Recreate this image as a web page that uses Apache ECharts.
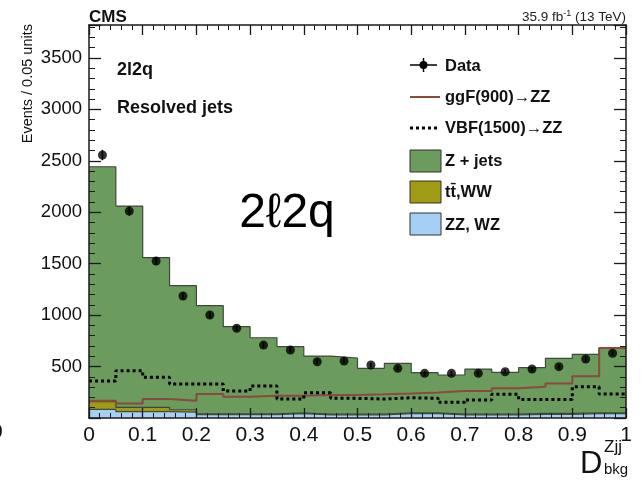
<!DOCTYPE html>
<html><head><meta charset="utf-8">
<script src="https://cdn.jsdelivr.net/npm/echarts@6/dist/echarts.min.js"></script>
<style>html,body{margin:0;padding:0;background:#fff}#c{width:643px;height:480px}</style>
</head><body><div id="c"></div>
<script>
// ---- data ----
const binEdges = [0,0.05,0.1,0.15,0.2,0.25,0.3,0.35,0.4,0.45,0.5,0.55,0.6,0.65,0.7,0.75,0.8,0.85,0.9,0.95,1];
const zzWz   = [84,61,61,58,33,33,33,42,30,30,30,42,42,30,30,30,36,36,42,42];
const ttWw   = [74,43,43,22,8,8,8,8,8,8,8,8,8,8,8,8,8,8,8,8];
const zJets  = [2284,1956,1454,1206,1051,847,739,643,564,545,445,481,391,380,438,406,445,536,569,627];
const dataEvents = [2556,2011,1526,1186,1001,872,709,661,547,554,515,483,434,434,434,450,476,499,573,629];
const dataErrors = [50,45,39,34,32,30,27,26,23,24,23,22,21,21,21,21,22,22,24,25];
const ggF900  = [168,142,184,168,233,207,216,216,223,223,230,239,249,262,262,288,303,336,405,680];
const vbf1500 = [359,460,395,330,330,262,310,184,245,191,184,197,191,152,175,230,181,181,303,233];
const yMax = 3820;

const FONT = '"Liberation Sans", Arial, Helvetica, sans-serif';
const C_GREEN = '#6b9b5d', C_OLIVE = '#a09a14', C_BLUE = '#a6cff4', C_BROWN = '#8a4a3c', C_EDGE = '#3f4a3c', C_AX = '#1a1a1a';

function stepData(vals){ const d = vals.map((v,i)=>[binEdges[i], v]); d.push([binEdges[binEdges.length-1], vals[vals.length-1]]); return d; }
const stBlue  = zzWz.slice();
const stOlive = zzWz.map((v,i)=>v+ttWw[i]);
const stGreen = stOlive.map((v,i)=>v+zJets[i]);
const centers = dataEvents.map((v,i)=>(binEdges[i]+binEdges[i+1])/2);

const chart = echarts.init(document.getElementById('c'), null, {renderer:'canvas'});
function xAx(pos, labels){
  return {type:'value', min:0, max:1, interval:0.1, position:pos, z:5,
    axisLine:{show:true, onZero:false, lineStyle:{color:C_AX, width:1.5}},
    axisTick:{show:true, inside:true, length:10, lineStyle:{color:C_AX, width:1.3}},
    minorTick:{show:true, splitNumber:5, length:5, lineStyle:{color:C_AX, width:1}},
    splitLine:{show:false},
    axisLabel: labels ? {show:true, fontSize:21, color:'#111', fontFamily:FONT, margin:7} : {show:false}};
}
function yAx(pos, major, labels){
  return {type:'value', min:0, max:yMax, interval: major?500:100, position:pos, z:5,
    axisLine: {show: major, onZero:false, lineStyle:{color:C_AX, width:1.5}},
    axisTick:{show:true, inside:true, length: major?12:6, lineStyle:{color:C_AX, width: major?1.3:1}},
    splitLine:{show:false},
    axisLabel: labels ? {show:true, fontSize:18.5, color:'#111', fontFamily:FONT, margin:7,
       formatter: v => (v>0 && v%500===0) ? String(v) : ''} : {show:false}};
}
function area(name, vals, color){
  return {name, type:'line', step:'end', data:stepData(vals), symbol:'none', xAxisIndex:0, yAxisIndex:0,
    lineStyle:{color:C_EDGE, width:1.2}, areaStyle:{color, opacity:1}, z:2, silent:true};
}
const option = {
  animation:false,
  backgroundColor:'#fff',
  grid:{left:89, right:17, top:25, bottom:62, containLabel:false},
  xAxis:[xAx('bottom', true), xAx('top', false)],
  yAxis:[yAx('left', true, true), yAx('left', false, false), yAx('right', true, false), yAx('right', false, false)],
  series:[
    area('Z + jets', stGreen, C_GREEN),
    area('tt\u0304,WW', stOlive, C_OLIVE),
    area('ZZ, WZ', stBlue, C_BLUE),
    {name:'ggF(900)\u2192ZZ', type:'line', step:'end', data:stepData(ggF900), symbol:'none', xAxisIndex:0, yAxisIndex:0,
      lineStyle:{color:C_BROWN, width:2}, z:3},
    {name:'VBF(1500)\u2192ZZ', type:'line', step:'end', data:stepData(vbf1500), symbol:'none', xAxisIndex:0, yAxisIndex:0,
      lineStyle:{color:'#000', width:3, type:[3,3], cap:'butt'}, z:3},
    {name:'Data err', type:'custom', xAxisIndex:0, yAxisIndex:0, z:4,
      data: dataEvents.map((v,i)=>[centers[i], v, dataErrors[i]]),
      encode:{x:0, y:1},
      renderItem:(params, api)=>{
        const x = api.value(0), y = api.value(1), e = api.value(2);
        const a = api.coord([x, y-e]), b = api.coord([x, y+e]);
        return {type:'line', shape:{x1:a[0], y1:a[1], x2:b[0], y2:b[1]}, style:{stroke:'#000', lineWidth:1.5}};
      }},
    {name:'Data', type:'scatter', xAxisIndex:0, yAxisIndex:0, z:5, symbol:'circle', symbolSize:9,
      itemStyle:{color:'#000'}, data: dataEvents.map((v,i)=>[centers[i], v])}
  ],
  graphic:[
    {type:'text', x:89, y:17, style:{text:'CMS', font:'bold 17px '+FONT, fill:'#111', textVerticalAlign:'middle'}},
    {type:'text', x:626, y:17, style:{text:'{a|35.9 fb}{s|-1}{a| (13 TeV)}', textAlign:'right', textVerticalAlign:'middle', fill:'#222',
      rich:{a:{font:'13.5px '+FONT, fill:'#222'}, s:{font:'9px '+FONT, fill:'#222', verticalAlign:'top', padding:[0,0,6,0]}}}},
    {type:'text', x:28, y:24, rotation:Math.PI/2, style:{text:'Events / 0.05 units', font:'14.5px '+FONT, fill:'#111', textAlign:'right', textVerticalAlign:'middle'}},
    {type:'text', x:117, y:70, style:{text:'2l2q', font:'bold 18px '+FONT, fill:'#111', textVerticalAlign:'middle'}},
    {type:'text', x:117, y:108, style:{text:'Resolved jets', font:'bold 18px '+FONT, fill:'#111', textVerticalAlign:'middle'}},
    {type:'text', x:287, y:214, style:{text:'2\u21132q', font:'48px '+FONT, fill:'#000', textAlign:'center', textVerticalAlign:'middle'}},
    {type:'text', x:-9, y:432, style:{text:'0', font:'21px '+FONT, fill:'#111', textVerticalAlign:'middle'}},
    // x-axis title
    {type:'text', x:580, y:464, style:{text:'D', font:'31px '+FONT, fill:'#111', textVerticalAlign:'middle'}},
    {type:'text', x:604, y:447, style:{text:'Zjj', font:'17px '+FONT, fill:'#111', textVerticalAlign:'middle'}},
    {type:'text', x:604, y:470, style:{text:'bkg', font:'15px '+FONT, fill:'#111', textVerticalAlign:'middle'}},
    // legend
    {type:'line', shape:{x1:410, y1:65, x2:437, y2:65}, style:{stroke:'#000', lineWidth:1.5}},
    {type:'line', shape:{x1:423.5, y1:58, x2:423.5, y2:72}, style:{stroke:'#000', lineWidth:1.5}},
    {type:'circle', shape:{cx:423.5, cy:65, r:4}, style:{fill:'#000'}},
    {type:'text', x:445, y:66, style:{text:'Data', font:'bold 16.5px '+FONT, fill:'#111', textVerticalAlign:'middle'}},
    {type:'line', shape:{x1:410, y1:97, x2:440, y2:97}, style:{stroke:C_BROWN, lineWidth:2}},
    {type:'text', x:445, y:97, style:{text:'ggF(900)\u2192ZZ', font:'bold 16.5px '+FONT, fill:'#111', textVerticalAlign:'middle'}},
    {type:'line', shape:{x1:410, y1:128, x2:440, y2:128}, style:{stroke:'#000', lineWidth:3, lineDash:[3,3]}},
    {type:'text', x:445, y:128, style:{text:'VBF(1500)\u2192ZZ', font:'bold 16.5px '+FONT, fill:'#111', textVerticalAlign:'middle'}},
    {type:'rect', shape:{x:410, y:150, width:31, height:22}, style:{fill:C_GREEN, stroke:'#333', lineWidth:1}},
    {type:'text', x:445, y:161, style:{text:'Z + jets', font:'bold 16.5px '+FONT, fill:'#111', textVerticalAlign:'middle'}},
    {type:'rect', shape:{x:410, y:181, width:31, height:22}, style:{fill:C_OLIVE, stroke:'#333', lineWidth:1}},
    {type:'text', x:445, y:192, style:{text:'tt\u0304,WW', font:'bold 16.5px '+FONT, fill:'#111', textVerticalAlign:'middle'}},
    {type:'rect', shape:{x:410, y:213, width:31, height:22}, style:{fill:C_BLUE, stroke:'#333', lineWidth:1}},
    {type:'text', x:445, y:225, style:{text:'ZZ, WZ', font:'bold 16.5px '+FONT, fill:'#111', textVerticalAlign:'middle'}}
  ]
};
chart.setOption(option);
</script></body></html>
